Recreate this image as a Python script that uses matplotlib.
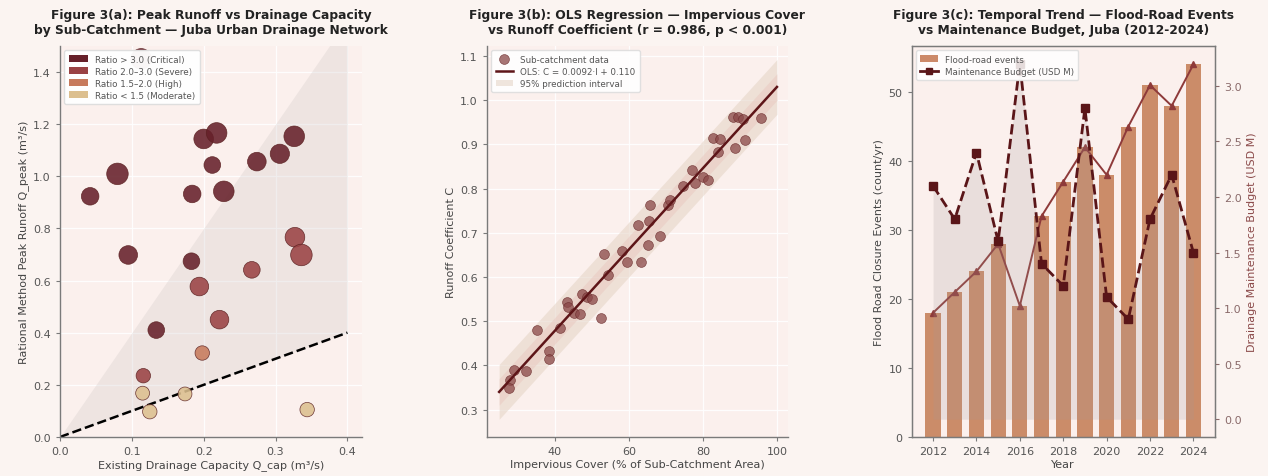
import numpy as np
import matplotlib
matplotlib.use("Agg")
import matplotlib.pyplot as plt
from matplotlib.patches import Patch
from matplotlib.lines import Line2D

# ---------------- Panel (a) data ----------------
q_cap = [0.042, 0.080, 0.184, 0.200, 0.218, 0.212, 0.228, 0.274, 0.306, 0.326,
         0.327, 0.113, 0.095, 0.183, 0.194, 0.222, 0.267, 0.336, 0.134, 0.198,
         0.116, 0.115, 0.125, 0.174, 0.344]
q_peak = [0.923, 1.009, 0.932, 1.143, 1.166, 1.043, 0.942, 1.056, 1.086, 1.153,
          0.766, 1.450, 0.698, 0.674, 0.577, 0.450, 0.641, 0.698, 0.410, 0.322,
          0.235, 0.168, 0.097, 0.165, 0.105]
area_ha = [40, 60, 40, 50, 55, 36, 55, 45, 48, 55,
           50, 55, 45, 36, 45, 45, 36, 60, 36, 27,
           27, 25, 27, 25, 27]
ratio_labels = ["Ratio > 3.0 (Critical)", "Ratio 2.0–3.0 (Severe)",
                "Ratio 1.5–2.0 (High)", "Ratio < 1.5 (Moderate)"]
ratio_colors = ["#66202a", "#9a4244", "#c77a5c", "#dcbf8f"]

# ---------------- Panel (b) data ----------------
impervious = [28.0, 27.6, 28.9, 32.3, 35.2, 38.5, 38.5, 41.5, 43.3, 43.7,
              45.1, 46.7, 47.4, 48.8, 50.0, 52.6, 53.2, 54.4, 58.1, 59.5,
              63.3, 65.1, 68.5, 62.6, 65.4, 65.8, 70.7, 71.0, 74.7, 77.2,
              77.9, 80.1, 81.5, 82.8, 84.6, 84.0, 88.2, 89.6, 90.8, 88.7,
              91.4, 95.6]
runoff_c = [0.368, 0.349, 0.390, 0.388, 0.480, 0.433, 0.415, 0.484, 0.543, 0.533,
            0.518, 0.516, 0.561, 0.554, 0.551, 0.508, 0.653, 0.604, 0.658, 0.634,
            0.634, 0.673, 0.693, 0.718, 0.727, 0.763, 0.763, 0.775, 0.807, 0.842,
            0.812, 0.826, 0.820, 0.915, 0.913, 0.882, 0.961, 0.961, 0.958, 0.891,
            0.910, 0.960]
ols_slope = 0.0092
ols_intercept = 0.110
pi_halfwidth = 0.062
ci_halfwidth = 0.03

# ---------------- Panel (c) data ----------------
years = [2012, 2013, 2014, 2015, 2016, 2017, 2018, 2019, 2020, 2021, 2022, 2023, 2024]
events = [18, 21, 24, 28, 19, 32, 37, 42, 38, 45, 51, 48, 54]
budget = [2.1, 1.8, 2.4, 1.6, 3.2, 1.4, 1.2, 2.8, 1.1, 0.9, 1.8, 2.2, 1.5]

# ---------------- Styling ----------------
FIG_BG = "#fbf4f1"
AX_BG = "#fbf0ed"
TICK_C = "#555555"
LAB_C = "#444444"
SPINE_C = "#7a7a7a"

plt.rcParams["font.family"] = ["DejaVu Sans"]

fig = plt.figure(figsize=(12.68, 4.77), dpi=100, facecolor=FIG_BG)
axA = fig.add_axes([0.0473, 0.0818, 0.238, 0.820])
axB = fig.add_axes([0.3840, 0.0818, 0.2375, 0.820])
axC = fig.add_axes([0.7190, 0.0818, 0.2390, 0.820])


def style(ax, box=False):
    ax.set_facecolor(AX_BG)
    ax.grid(True, color="white", lw=0.9, alpha=0.9, zorder=0)
    ax.set_axisbelow(True)
    for s in ["top", "right"]:
        ax.spines[s].set_visible(box)
    for s in ax.spines.values():
        s.set_color(SPINE_C)
        s.set_linewidth(1.0)
    ax.tick_params(colors=TICK_C, labelsize=8, length=3, color=SPINE_C)


TFS = 8.8
TPAD = 9
# ---------------- Panel (a) ----------------
style(axA)
qc = np.array(q_cap)
qp = np.array(q_peak)
ratio = qp / qc
cat = np.select([ratio > 3.0, ratio >= 2.0, ratio >= 1.5], [0, 1, 2], default=3)
cols = [ratio_colors[c] for c in cat]
xx = np.linspace(0, 0.4, 100)
axA.fill_between(xx, xx, xx * 4.0, color="#cdc6c4", alpha=0.28, lw=0, zorder=1)
axA.plot([0, 0.4], [0, 0.4], ls="--", color="black", lw=1.8, zorder=2)
axA.scatter(qc, qp, s=np.array(area_ha) * 4.0, c=cols, alpha=0.88,
            edgecolors="#5a2020", linewidths=0.5, zorder=3)
axA.set_xlim(0, 0.42)
axA.set_ylim(0, 1.5)
axA.set_xticks([0.0, 0.1, 0.2, 0.3, 0.4])
axA.set_yticks([0.0, 0.2, 0.4, 0.6, 0.8, 1.0, 1.2, 1.4])
axA.set_xlabel("Existing Drainage Capacity Q_cap (m³/s)", fontsize=8, color=LAB_C, labelpad=2)
axA.set_ylabel("Rational Method Peak Runoff Q_peak (m³/s)", fontsize=8, color=LAB_C, labelpad=3)
axA.set_title("Figure 3(a): Peak Runoff vs Drainage Capacity\nby Sub-Catchment — Juba Urban Drainage Network",
              fontsize=TFS, fontweight="bold", color="#222222", pad=TPAD)
handlesA = [Patch(facecolor=c, edgecolor="none", label=l) for c, l in zip(ratio_colors, ratio_labels)]
legA = axA.legend(handles=handlesA, loc="upper left", fontsize=6.3, frameon=True,
                  framealpha=0.96, facecolor="white", edgecolor="#dddddd",
                  handlelength=2.2, handleheight=0.9, borderpad=0.5, labelspacing=0.35)
legA.set_zorder(5)
for t in legA.get_texts():
    t.set_color("#555555")

# ---------------- Panel (b) ----------------
style(axB)
xl = np.linspace(25, 100, 100)
yl = ols_slope * xl + ols_intercept
axB.fill_between(xl, yl - pi_halfwidth, yl + pi_halfwidth, color="#e6d6c8", alpha=0.6,
                 lw=0, zorder=1, label="95% prediction interval")
axB.fill_between(xl, yl - ci_halfwidth, yl + ci_halfwidth, color="#e8c4bc", alpha=0.45,
                 lw=0, zorder=1)
axB.scatter(impervious, runoff_c, s=50, color="#8a4848", alpha=0.75,
            edgecolors="#6a2a2a", linewidths=0.5, zorder=3, label="Sub-catchment data")
axB.plot(xl, yl, color="#5e1518", lw=1.8, zorder=4, label="OLS: C = 0.0092·I + 0.110")
axB.set_xlim(21.7, 103)
axB.set_ylim(0.238, 1.123)
axB.set_xticks([40, 60, 80, 100])
axB.set_yticks([0.3, 0.4, 0.5, 0.6, 0.7, 0.8, 0.9, 1.0, 1.1])
axB.set_xlabel("Impervious Cover (% of Sub-Catchment Area)", fontsize=8, color=LAB_C, labelpad=2)
axB.set_ylabel("Runoff Coefficient C", fontsize=8, color=LAB_C, labelpad=3)
axB.set_title("Figure 3(b): OLS Regression — Impervious Cover\nvs Runoff Coefficient (r = 0.986, p < 0.001)",
              fontsize=TFS, fontweight="bold", color="#222222", pad=TPAD)
h, l = axB.get_legend_handles_labels()
order = [l.index("Sub-catchment data"), l.index("OLS: C = 0.0092·I + 0.110"),
         l.index("95% prediction interval")]
legB = axB.legend([h[i] for i in order], [l[i] for i in order], loc="upper left",
                  fontsize=6.3, frameon=True, framealpha=0.9, facecolor="white",
                  edgecolor="#dddddd", borderpad=0.5, labelspacing=0.35, handlelength=2.0)
for t in legB.get_texts():
    t.set_color("#555555")

# ---------------- Panel (c) ----------------
style(axC, box=True)
axC.grid(False)
axC.bar(years, events, width=0.7, color="#c98762", alpha=0.95, zorder=2,
        label="Flood-road events")
axC.plot(years, events, color="#8e3a3a", lw=1.4, marker="^", ms=4, zorder=3)
axC.set_ylim(0, max(events) * 1.05)
axC.set_xticks([2012, 2014, 2016, 2018, 2020, 2022, 2024])
axC.set_xlabel("Year", fontsize=8, color=LAB_C, labelpad=2)
axC.set_ylabel("Flood Road Closure Events (count/yr)", fontsize=8, color=LAB_C, labelpad=3)
axC.set_title("Figure 3(c): Temporal Trend — Flood-Road Events\nvs Maintenance Budget, Juba (2012-2024)",
              fontsize=TFS, fontweight="bold", color="#222222", pad=TPAD)

axC2 = axC.twinx()
axC2.fill_between(years, 0, budget, color="#a39a98", alpha=0.2, lw=0, zorder=1)
axC2.plot(years, budget, color="#5a1518", lw=2.0, ls="--", marker="s", ms=6,
          zorder=3, label="Maintenance Budget (USD M)")
axC2.set_yticks([0.0, 0.5, 1.0, 1.5, 2.0, 2.5, 3.0])
axC2.tick_params(colors="#8a6a6a", labelsize=8, length=3)
for s in axC2.spines.values():
    s.set_color(SPINE_C)
axC2.set_ylabel("Drainage Maintenance Budget (USD M)", fontsize=8, color="#8b4a4a", labelpad=4)
hC = [Patch(facecolor="#cc8a6a", edgecolor="none"),
      Line2D([], [], color="#5a1518", lw=2.0, marker="s", ms=5)]
legC = axC2.legend(hC, ["Flood-road events", "Maintenance Budget (USD M)"], loc="upper left",
                   fontsize=6.3, frameon=True, framealpha=0.85, facecolor="white",
                   edgecolor="#dddddd", borderpad=0.5, labelspacing=0.35, handlelength=2.0)
for t in legC.get_texts():
    t.set_color("#555555")

fig.savefig("out.png", dpi=100, facecolor=FIG_BG)
